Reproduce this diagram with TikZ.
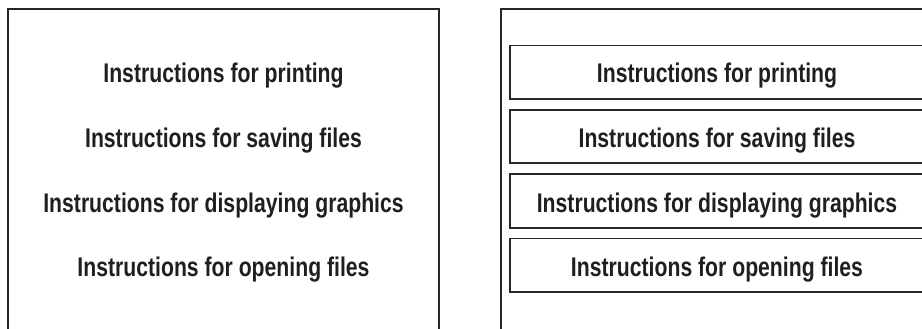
\documentclass[tikz,border=0pt]{standalone}
\usepackage{fontspec}
\setmainfont{Liberation Sans}
\font\lblfont="Liberation Sans/B:extend=0.785" at 27pt
\begin{document}
\begin{tikzpicture}[x=1pt,y=-1pt,
  frame/.style={line width=2pt,draw=black!85},
  inner/.style={line width=1.6pt,draw=black!85},
  lbl/.style={anchor=base,inner sep=0pt,font=\lblfont,text=black!88}]
\useasboundingbox (0,0) rectangle (922,329);
% left panel
\draw[frame] (8,329) -- (8,9) -- (439,9) -- (439,329);
\node[lbl] (l1) at (223.5,83) {Instructions for printing};
\node[lbl] (l2) at (223.5,147.5) {Instructions for saving files};
\node[lbl] (l3) at (223.5,212) {Instructions for displaying graphics};
\node[lbl] (l4) at (223.5,276) {Instructions for opening files};
% right panel
\draw[frame] (925,9) -- (500.5,9) -- (500.5,329);
\draw[inner] (925,45.7) -- (510,45.7) -- (510,99) -- (925,99);
\draw[inner] (925,110) -- (510,110) -- (510,163) -- (925,163);
\draw[inner] (925,174) -- (510,174) -- (510,228) -- (925,228);
\draw[inner] (925,238.5) -- (510,238.5) -- (510,292) -- (925,292);
\node[lbl] (r1) at (717,83) {Instructions for printing};
\node[lbl] (r2) at (717,147.5) {Instructions for saving files};
\node[lbl] (r3) at (717,212) {Instructions for displaying graphics};
\node[lbl] (r4) at (717,276) {Instructions for opening files};
\end{tikzpicture}
\end{document}
